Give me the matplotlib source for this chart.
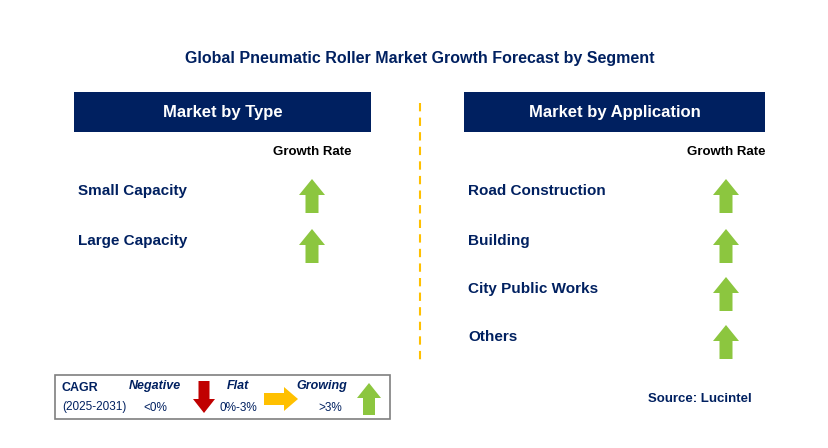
import matplotlib.pyplot as plt
from matplotlib.patches import Rectangle, Polygon

plt.rcParams["font.family"] = "Liberation Sans"

TITLE = "Global Pneumatic Roller Market Growth Forecast by Segment"
TYPE_SEGMENTS = ["Small Capacity", "Large Capacity"]
TYPE_TREND = ["up", "up"]
APP_SEGMENTS = ["Road Construction", "Building", "City Public Works", "Others"]
APP_TREND = ["up", "up", "up", "up"]

NAVY = "#002060"
GREEN = "#8CC63F"
RED = "#C00000"
YELLOW = "#FFC000"

fig = plt.figure(figsize=(8.29, 4.48), dpi=100)
ax = fig.add_axes([0, 0, 1, 1])
ax.set_xlim(0, 829)
ax.set_ylim(448, 0)
ax.axis("off")


def arrow(cx, cy, direction, color, h=34, w=24, sw=12, head=16):
    if direction == "up":
        top, bot = cy - h / 2, cy + h / 2
        pts = [(cx, top), (cx + w / 2, top + head), (cx + sw / 2, top + head),
               (cx + sw / 2, bot), (cx - sw / 2, bot), (cx - sw / 2, top + head),
               (cx - w / 2, top + head)]
    elif direction == "down":
        top, bot = cy - h / 2, cy + h / 2
        pts = [(cx, bot), (cx + w / 2, bot - head), (cx + sw / 2, bot - head),
               (cx + sw / 2, top), (cx - sw / 2, top), (cx - sw / 2, bot - head),
               (cx - w / 2, bot - head)]
    else:
        l, r = cx - h / 2, cx + h / 2
        pts = [(r, cy), (r - head, cy - w / 2), (r - head, cy - sw / 2),
               (l, cy - sw / 2), (l, cy + sw / 2), (r - head, cy + sw / 2),
               (r - head, cy + w / 2)]
    ax.add_patch(Polygon(pts, closed=True, color=color, lw=0))


ax.text(420, 58, TITLE, ha="center", va="center", fontsize=11.5, fontweight="bold",
        color=NAVY)


def panel(x0, x1, header, segs, trends, ys, arrow_x):
    ax.add_patch(Rectangle((x0, 92), x1 - x0, 40, color=NAVY, lw=0))
    ax.text((x0 + x1) / 2, 112, header, ha="center", va="center", fontsize=12,
            fontweight="bold", color="white")
    ax.text(arrow_x, 152, "Growth Rate", ha="center", va="center", fontsize=9.5,
            fontweight="bold", color="black")
    for s, t, y in zip(segs, trends, ys):
        ax.text(x0 + 4, y, s, ha="left", va="center", fontsize=11, fontweight="bold",
                color=NAVY)
        arrow(arrow_x, y + 5, t, GREEN, h=34, w=26, sw=13, head=16)


panel(74, 371, "Market by Type", TYPE_SEGMENTS, TYPE_TREND, [191, 241], 312)
panel(464, 765, "Market by Application", APP_SEGMENTS, APP_TREND,
      [191, 241, 289, 337], 726)

ax.plot([420, 420], [103, 365], color="#FFC000", lw=1.5, ls=(0, (4, 3)))

# legend box
ax.add_patch(Rectangle((55, 375), 335, 44, fill=False, ec="#7F7F7F", lw=1.2))
ax.text(62, 388, "CAGR", fontsize=9, fontweight="bold", color=NAVY, va="center")
ax.text(62, 407, "(2025-2031)", fontsize=8.5, color=NAVY, va="center")
ax.text(155, 386, "Negative", fontsize=9, fontweight="bold", style="italic",
        color=NAVY, ha="center", va="center")
ax.text(155, 408, "<0%", fontsize=8.5, color=NAVY, ha="center", va="center")
arrow(204, 397, "down", RED, h=32, w=22, sw=11, head=14)
ax.text(238, 386, "Flat", fontsize=9, fontweight="bold", style="italic",
        color=NAVY, ha="center", va="center")
ax.text(238, 408, "0%-3%", fontsize=8.5, color=NAVY, ha="center", va="center")
arrow(281, 399, "right", YELLOW, h=34, w=24, sw=12, head=14)
ax.text(322, 386, "Growing", fontsize=9, fontweight="bold", style="italic",
        color=NAVY, ha="center", va="center")
ax.text(330, 408, ">3%", fontsize=8.5, color=NAVY, ha="center", va="center")
arrow(369, 399, "up", GREEN, h=32, w=24, sw=12, head=15)

ax.text(700, 399, "Source: Lucintel", ha="center", va="center", fontsize=9.5,
        fontweight="bold", color=NAVY)

fig.savefig("out.png", dpi=100)
